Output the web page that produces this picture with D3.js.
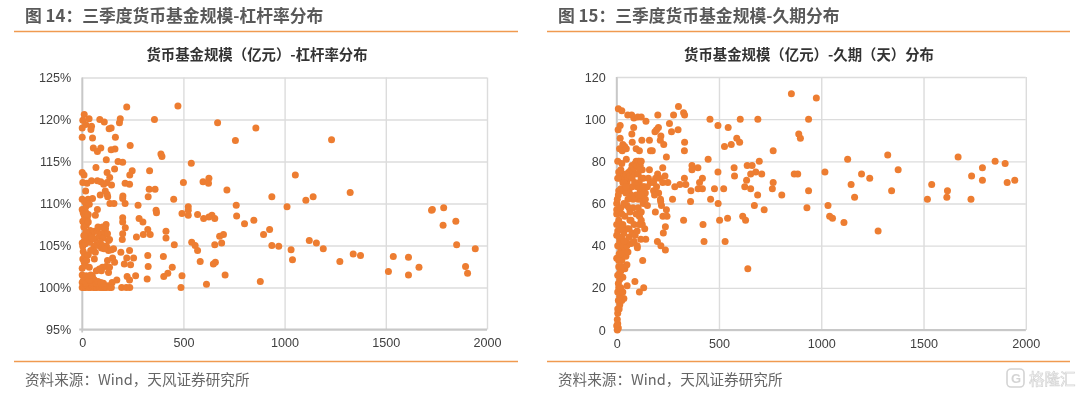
<!DOCTYPE html>
<html>
<head>
<meta charset="utf-8">
<script src="https://cdn.jsdelivr.net/npm/d3@7"></script>
<style>
html, body { margin: 0; padding: 0; background: #fff; }
svg { display: block; filter: blur(0.35px); }
</style>
</head>
<body>
<script>
// fund size (100m yuan) vs leverage (%)
var leverageFunds = [
[10,120.6],[34,120.1],[3,119.9],[0,119],[17,119.4],[46,119.2],[43,118.8],[87,120],[109,119.7],[188,120.1],[184,119.6],[220,121.5],
[357,120],[473,121.6],[669,119.6],[858,119],[757,117.5],[1232,117.6],[133,118.9],[143,119],[0,117.9],[51,117.8],[164,117.9],[237,116.9],
[55,116.6],[92,116.6],[75,116.2],[143,116.4],[162,116.5],[389,115.9],[394,115.6],[539,114.8],[119,115.2],[177,115],[200,114.9],
[68,114.3],[160,114.1],[247,113.9],[235,113.4],[123,113.7],[0,113.7],[9,113.4],[333,113.9],[1053,113.4],[626,113],[597,112.6],[624,112.4],
[500,112.5],[3,112.5],[24,112.4],[46,112.7],[75,112.7],[92,112.6],[136,113.1],[123,112.5],[106,112.3],[145,112.2],[212,112.4],[234,112.3],
[17,111.5],[331,111.7],[360,111.7],[715,111.6],[114,111.5],[89,111],[1324,111.3],[123,111.1],[201,110.9],
[0,110.5],[29,110.5],[51,110.6],[126,110.8],[137,110],[157,110],[212,110],[200,110.6],[276,109.8],[326,110.8],[452,110.5],[937,110.8],[1105,110.4],[1141,110.8],
[1730,109.3],[1726,109.2],[1786,109.5],[1846,107.9],[1783,107.4],[1850,105.1],[1942,104.6],[1894,102.5],[1904,101.7],[1664,102.4],[1612,103.6],[1612,101.5],
[1537,103.7],[1513,101.9],[1375,103.8],[1339,104],[1273,103.1],[1191,104.6],[1157,105.3],[1122,105.6],[1039,103.3],[1032,104.5],[971,104.9],[937,105],
[926,106.9],[896,106.3],[848,108],[802,107.6],[763,108.5],[761,109.8],[1012,109.6],[880,100.7],[706,101.5],[658,103],[648,102.8],[583,103.1],[570,104.4],
[558,105],[541,105.4],[655,105.1],[689,105.3],[679,106.1],[698,106.3],[655,108.2],[641,108.6],[626,108.4],[600,108.2],[570,108.7],[524,108.6],[493,108.8],
[524,109.6],[524,109.2],[614,100.4],[488,100],[493,101.4],[445,102.4],[423,101.7],[403,101.3],[401,103.7],[455,105.1],[414,105.9],[414,106.7],[365,109.2],[367,108.9],
[324,103.8],[326,102.5],[321,101],[264,101.4],[254,103.5],[336,106.3],[324,106.9],[302,106.3],[268,106],[300,107.8],[281,108.2],[200,108.3],[200,107.8],[213,107.1],
[200,106.4],[198,105.7],[234,104.4],[191,104.2],[220,103.5],[239,102.7],[208,102.8],[222,101.3],[234,100.9],[195,100],[218,100],[235,100],[171,100.9],[148,100.6],
[0,109.3],[5,108.9],[10,108.6],[15,109.1],[20,108.8],[25,108.3],[3,107.9],[10,107.6],[20,107.4],[30,108.7],[8,107.2],[75,109.3],[65,108.6],
[40,106.8],[50,106.4],[60,106.7],[30,106.2],[20,105.9],[10,105.5],[0,105.3],[3,104.9],[15,105.2],[25,105.7],[5,104.3],[12,103.9],[3,103.4],[10,103],[0,102.3],[15,102.6],
[35,102.4],[60,103.4],[65,104.2],[58,104.9],[70,105.1],[80,105],[62,105.8],[85,106.1],[75,106.7],[78,107.2],[95,106.4],[105,105.9],[110,106.6],[115,107],[118,107.5],
[125,106.4],[130,105.6],[135,105.7],[120,104.9],[95,104.7],[130,104.4],[145,104.5],[155,104.6],[150,103.5],[160,103],[125,103.2],[118,102.5],[135,102.4],[100,102.4],
[95,102],[85,102.2],[70,102],[130,101.8],[0,101.5],[10,101.2],[20,101.4],[30,101.1],[50,101.4],[55,101],[60,100.9],[0,100.6],[5,100.8],
[0,100],[8,100],[16,100],[24,100.2],[32,100],[40,100],[48,100.3],[56,100],[64,100],[72,100],[80,100.2],[88,100],[96,100],[104,100],[112,100],[120,100],[128,100.2],[136,100],[144,100],[20,100.5],[45,100.6],[70,100.5],
[38,105.4],[48,105.9],[88,105.4],[100,105],[108,104.6],[42,104.4],[30,103.9],[22,103.2],[35,100.9],[42,101.5],[78,100.7],[92,100.6],[105,100.5],[20,109.7],[12,110.2],[35,109.9],[30,107.8],[18,106.6],[8,106.2],[100,107.2]
];

// fund size (100m yuan) vs duration (days)
var durationFunds = [
[8,105],[25,104],[54,102],[73,102],[84,100.6],[103,101],[120,101],[143,99],[201,102],[278,102],[302,106],[327,103],[332,102],[854,112],[976,110],[938,100],[690,100],[604,100],
[456,100],[495,97],[545,96],[258,98],[300,95],[268,94],[204,96],[187,94],[195,95],[17,97],[7,95],[83,96],[74,93],[17,91],[123,90],[160,90],[216,92],[213,90],[230,88],[332,89],
[331,85],[76,89],[30,88],[14,86],[39,87],[27,85],[47,86],[95,86],[111,85],[165,85],[174,85],[243,82],[527,87],[560,88],[587,91],[601,89],[890,93],[898,91],[765,85],[447,81],
[697,80],[638,78],[662,78],[574,77],[576,73],[495,75],[368,78],[397,77],[368,76],[225,77],[5,80],[25,79],[47,81],
[1129,81],[1325,83],[1669,82],[1850,80],[1899,79],[1788,77],[1735,73],[1788,71],[1946,71],[1909,70],[1376,76],[1197,74],[1237,72],[1146,69],[1018,75],[868,74],[885,74],
[1344,66],[1540,69],[1617,66],[1614,63],[938,66],[807,64],[765,70],[761,67],[689,64],[523,67],[478,67],[709,74],[680,75],[655,74],[635,71],[626,68],[655,67],[419,72],[405,70],
[398,67],[419,67],[363,66],[331,72],[338,69],[309,69],[284,68],[250,70],[236,73],
[1519,62],[1732,62],[1163,63],[1033,59],[930,58],[1041,54],[1055,53],[1111,51],[1278,47],[673,59],[721,57],[616,54],[630,52],[542,53],[503,52],[496,60],[459,62],[361,61],
[327,52],[422,50],[427,42],[530,42],[641,29],[273,62],[214,62],[219,59],[243,57],[226,54],[246,54],[189,56],[238,49],[228,46],[199,42],[216,40],[238,38],[127,33],[89,23],
[132,20],[111,18],[51,21],[142,43],[118,43],[101,39],[137,48],[125,50],[111,54],
[15,72],[25,74],[30,70],[40,72],[45,74],[50,70],[55,72],[60,75],[65,73],[70,76],[75,78],[80,75],[85,77],[90,79],[95,80],[100,78],[105,80],[110,80],[115,78],[120,80],[125,76],
[130,72],[135,68],[140,65],[120,72],[110,70],[115,66],[100,68],[95,64],[105,62],[120,62],[130,60],[140,62],[150,59],[155,72],[160,76],[165,70],[150,68],[60,66],[70,64],[75,68],
[80,62],[20,67],[10,66],[30,66],[45,65],[55,62],[5,72],[10,75],[20,76],[0,60],[3,62],[8,64],[180,70],[190,72],[200,74],[210,72],[180,66],[195,68],[205,65],[225,70],[185,64],[215,61],
[3,0],[8,1],[0,2],[5,3],[3,5],[5,8],[5,10],[15,12],[25,14],[35,15],[15,16],[5,18],[10,20],[8,22],[15,24],[30,25],[5,26],[20,28],[40,29],[10,30],[25,30],[50,31],[25,33],[0,34],
[30,35],[45,35],[12,36],[55,37],[20,38],[40,38],[5,40],[30,40],[50,40],[70,41],[15,42],[45,42],[25,44],[60,44],[0,45],[35,46],[5,47],[50,48],[20,48],[0,50],[30,50],[10,52],
[65,52],[40,54],[0,55],[25,55],[15,56],[0,57],[20,58],[50,59],
[70,52],[85,50],[75,46],[90,45],[100,47],[110,50],[65,56],[80,58],[95,55],[105,58],[120,56],[60,48],[85,42],[100,40],[120,52],
[35,70],[45,68],[75,72],[88,70],[90,74],[105,74],[112,76],[128,68],[118,64],[35,60],[60,58],[12,44],[18,36],[35,42],[10,33],[20,20],[15,27],[8,14],[12,10],[30,18]
];

var xTicks = [0, 500, 1000, 1500, 2000];
var leverageTicks = [95, 100, 105, 110, 115, 120, 125];
var durationTicks = [0, 20, 40, 60, 80, 100, 120];

var orange = "#ed7d31";
var cjk = "'Noto Sans CJK SC', sans-serif";

var svg = d3.select("body").append("svg")
	.attr("width", 1080)
	.attr("height", 395);

function drawPanel(opt) {
	// heading, rules and source line
	svg.append("text")
		.attr("x", opt.headX).attr("y", 22)
		.attr("font-family", cjk).attr("font-size", 16.8).attr("font-weight", 700)
		.attr("fill", "#595959")
		.text(opt.heading);

	svg.append("line").attr("x1", opt.ruleL).attr("x2", opt.ruleR).attr("y1", 31.5).attr("y2", 31.5)
		.attr("stroke", "#f09a50").attr("stroke-width", 1.3);
	svg.append("line").attr("x1", opt.ruleL).attr("x2", opt.ruleR).attr("y1", 361.5).attr("y2", 361.5)
		.attr("stroke", "#f09a50").attr("stroke-width", 1.3);

	svg.append("text")
		.attr("x", opt.headX).attr("y", 385)
		.attr("font-family", cjk).attr("font-size", 14.6)
		.attr("fill", "#666")
		.text("资料来源：Wind，天风证券研究所");

	svg.append("text")
		.attr("x", opt.titleX).attr("y", 60).attr("text-anchor", "middle")
		.attr("font-family", cjk).attr("font-size", 14.4).attr("font-weight", 700)
		.attr("fill", "#333")
		.text(opt.title);

	var x = d3.scaleLinear().domain([0, 2000]).range(opt.xRange);
	var y = d3.scaleLinear().domain(opt.yDomain).range(opt.yRange);
	var w = opt.xRange[1] - opt.xRange[0];
	var h = opt.yRange[0] - opt.yRange[1];

	var xAxis = svg.append("g")
		.attr("transform", "translate(0," + opt.yRange[0] + ")")
		.call(d3.axisBottom(x).tickValues(xTicks).tickSize(-h).tickPadding(9).tickFormat(d3.format("d")));
	var yAxis = svg.append("g")
		.attr("transform", "translate(" + opt.xRange[0] + ",0)")
		.call(d3.axisLeft(y).tickValues(opt.yTicks).tickSize(-w).tickPadding(11).tickFormat(opt.yFormat));

	[xAxis, yAxis].forEach(function(a) {
		a.select(".domain").remove();
		a.selectAll("line").attr("stroke", "#dcdcdc").attr("stroke-width", 1.4);
		a.selectAll("text")
			.attr("font-family", "'Liberation Sans', sans-serif")
			.attr("font-size", 12.6)
			.attr("fill", "#404040");
	});

	// the zero axes are a bit heavier than the grid
	svg.append("line").attr("x1", opt.xRange[0]).attr("x2", opt.xRange[0]).attr("y1", opt.yRange[1]).attr("y2", opt.yRange[0] + 3)
		.attr("stroke", "#c8c8c8").attr("stroke-width", 1.8);
	svg.append("line").attr("x1", opt.xRange[0] - 3).attr("x2", opt.xRange[1]).attr("y1", opt.yRange[0]).attr("y2", opt.yRange[0])
		.attr("stroke", "#c8c8c8").attr("stroke-width", 1.8);

	svg.append("g").selectAll("circle")
		.data(opt.points)
		.enter()
		.append("circle")
		.attr("cx", function(d) { return x(d[0]); })
		.attr("cy", function(d) { return y(d[1]); })
		.attr("r", 3.5)
		.attr("fill", orange);
}

drawPanel({
	heading: "图 14：三季度货币基金规模-杠杆率分布",
	title: "货币基金规模（亿元）-杠杆率分布",
	headX: 25, ruleL: 14, ruleR: 518, titleX: 257,
	xRange: [82.2, 487], yRange: [329.5, 77.5],
	yDomain: [95, 125], yTicks: leverageTicks,
	yFormat: function(d) { return d + "%"; },
	points: leverageFunds
});

drawPanel({
	heading: "图 15：三季度货币基金规模-久期分布",
	title: "货币基金规模（亿元）-久期（天）分布",
	headX: 558, ruleL: 547, ruleR: 1070, titleX: 809,
	xRange: [616.7, 1025.8], yRange: [330, 77],
	yDomain: [0, 120], yTicks: durationTicks,
	yFormat: d3.format("d"),
	points: durationFunds
});

// faint watermark, bottom right
svg.append("rect")
	.attr("x", 1007).attr("y", 369).attr("width", 17).attr("height", 18).attr("rx", 4)
	.attr("fill", "none").attr("stroke", "#d4d4d4").attr("stroke-width", 1.6);
svg.append("text")
	.attr("x", 1011).attr("y", 383)
	.attr("font-family", "'Liberation Sans', sans-serif").attr("font-size", 13).attr("font-weight", 700).attr("fill", "#d4d4d4")
	.text("G");
svg.append("text")
	.attr("x", 1029).attr("y", 384.5)
	.attr("font-family", cjk).attr("font-size", 15.5).attr("fill", "#fff")
	.attr("stroke", "#d4d4d4").attr("stroke-width", 0.7)
	.text("格隆汇");
</script>
</body>
</html>
